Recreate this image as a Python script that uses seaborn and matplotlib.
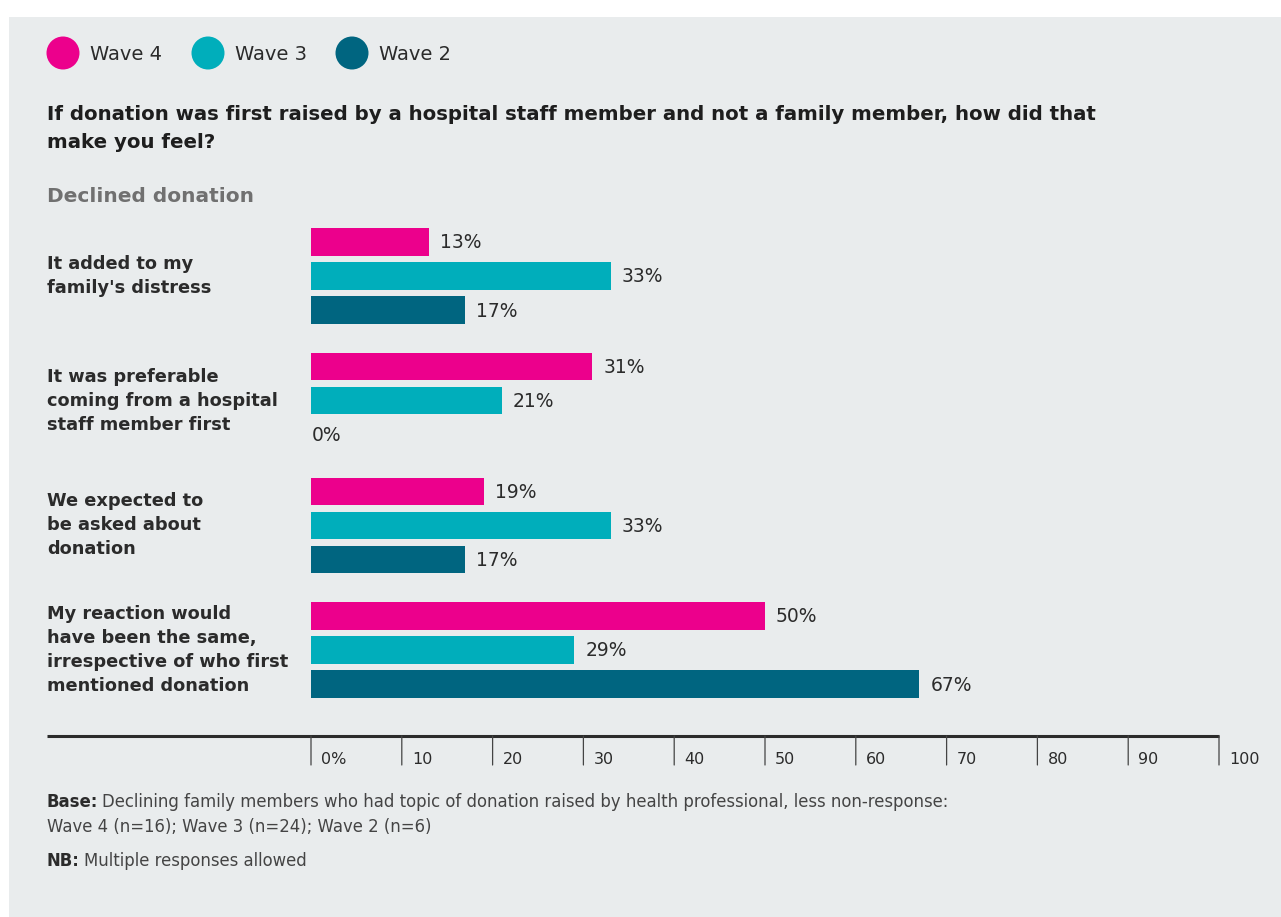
import matplotlib
matplotlib.use("Agg")
import matplotlib.pyplot as plt
from matplotlib.patches import Rectangle, Circle
import seaborn as sns
import pandas as pd

# Survey data
categories = [
    "It added to my\nfamily's distress",
    "It was preferable\ncoming from a hospital\nstaff member first",
    "We expected to\nbe asked about\ndonation",
    "My reaction would\nhave been the same,\nirrespective of who first\nmentioned donation",
]
waves = ["Wave 4", "Wave 3", "Wave 2"]
wave4 = [13, 31, 19, 50]
wave3 = [33, 21, 33, 29]
wave2 = [17, 0, 17, 67]
tick_values = [0, 10, 20, 30, 40, 50, 60, 70, 80, 90, 100]
tick_labels = ["0%", "10", "20", "30", "40", "50", "60", "70", "80", "90", "100"]

colors = ["#EC008C", "#00AEBB", "#006580"]
BG = "#E9ECED"
DARK = "#2B2B2B"

df = pd.DataFrame({
    "category": categories * 3,
    "wave": [w for w in waves for _ in categories],
    "value": wave4 + wave3 + wave2,
})

sns.set_theme(style="white")
plt.rcParams["font.family"] = ["DejaVu Sans"]

W, H = 1281, 917
fig = plt.figure(figsize=(W / 100, H / 100), dpi=100)
fig.patch.set_facecolor("white")
fig.patches.append(Rectangle((9 / W, 0), 1 - 9 / W, 1 - 17 / H,
                             transform=fig.transFigure, facecolor=BG,
                             edgecolor="none", zorder=-10))

def fx(px):
    return px / W

def fy(py):
    return 1 - py / H

ax = fig.add_axes([fx(311), fy(736), fx(1219) - fx(311), fy(220) - fy(736)])
ax.set_facecolor("none")

sns.barplot(data=df, y="category", x="value", hue="wave", order=categories,
            hue_order=waves, palette=colors, orient="h", width=0.82, gap=0.2,
            saturation=1, legend=False, ax=ax, errorbar=None, linewidth=0)

ax.set_xlim(0, 100)
ax.set_ylim(3.69, -0.449)
ax.set_xlabel("")
ax.set_ylabel("")
ax.set_xticks([])
ax.set_yticks([])
for s in ax.spines.values():
    s.set_visible(False)

# Value labels at the end of each bar
for container in ax.containers:
    for bar in container:
        v = bar.get_width()
        yc = bar.get_y() + bar.get_height() / 2
        off = 11 if v > 0 else 1
        ax.annotate(f"{v:.0f}%", xy=(v, yc), xytext=(off, -1),
                    textcoords="offset pixels", ha="left", va="center",
                    fontsize=13.5, color=DARK)

# Category labels
for i, c in enumerate(categories):
    ax.annotate(c, xy=(0, i), xycoords=("axes fraction", "data"),
                xytext=(47 - 311, 0), textcoords="offset pixels",
                ha="left", va="center", fontsize=12.8, fontweight="bold",
                color=DARK, linespacing=1.42)

# Bottom axis line with ticks
ax.plot([(47 - 311) / 908, 1.0], [0, 0], transform=ax.transAxes,
        color=DARK, lw=2.2, clip_on=False, solid_capstyle="butt")
for v, lab in zip(tick_values, tick_labels):
    ax.annotate("", xy=(v, 0), xycoords=("data", "axes fraction"),
                xytext=(v, -29), textcoords=("data", "offset pixels"),
                arrowprops=dict(arrowstyle="-", color="#444444", lw=0.9,
                                shrinkA=0, shrinkB=0))
    ax.annotate(lab, xy=(v, 0), xycoords=("data", "axes fraction"),
                xytext=(10, -23), textcoords="offset pixels",
                ha="left", va="center", fontsize=11.5, color=DARK)

# Legend
for cx, tx, name, col in zip([63, 208, 352], [90, 235, 379], waves, colors):
    fig.patches.append(Circle((cx, H - 53), 16.5, transform=None,
                              facecolor=col, edgecolor="none"))
    fig.text(fx(tx), fy(54), name, ha="left", va="center",
             fontsize=14, color=DARK)

# Title and subtitle
fig.text(fx(47), fy(128.5),
         "If donation was first raised by a hospital staff member and not a family member, how did that\nmake you feel?",
         ha="left", va="center", fontsize=14.2, fontweight="bold",
         color="#1E1E1E", linespacing=1.62)
fig.text(fx(47), fy(197), "Declined donation", ha="left", va="center",
         fontsize=14.5, fontweight="bold", color="#707070")

# Footnotes
FOOT = 11.9
base_t = fig.text(fx(47), fy(802), "Base:", ha="left", va="center",
                  fontsize=FOOT, fontweight="bold", color=DARK)
fig.canvas.draw()
bb = base_t.get_window_extent()
fig.text(fx(bb.x1 + 4), fy(802),
         "Declining family members who had topic of donation raised by health professional, less non-response:",
         ha="left", va="center", fontsize=FOOT, color="#444444")
fig.text(fx(47), fy(827), "Wave 4 (n=16); Wave 3 (n=24); Wave 2 (n=6)",
         ha="left", va="center", fontsize=FOOT, color="#444444")
nb_t = fig.text(fx(47), fy(861), "NB:", ha="left", va="center",
                fontsize=FOOT, fontweight="bold", color=DARK)
fig.canvas.draw()
bb = nb_t.get_window_extent()
fig.text(fx(bb.x1 + 4), fy(861), "Multiple responses allowed",
         ha="left", va="center", fontsize=FOOT, color="#444444")

fig.savefig("out.png", dpi=100, facecolor=fig.get_facecolor())
